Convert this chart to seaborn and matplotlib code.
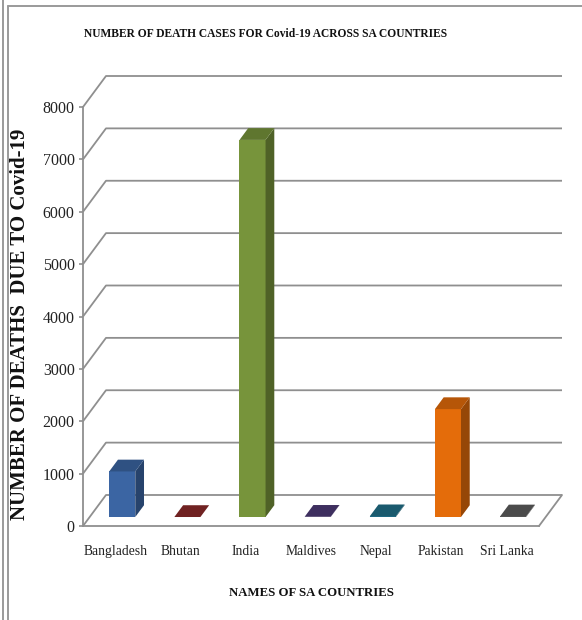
import matplotlib
matplotlib.use("Agg")
import matplotlib.pyplot as plt
from matplotlib.lines import Line2D
from matplotlib.patches import Polygon
from matplotlib.colors import to_rgb
import seaborn as sns
import pandas as pd

# Covid-19 deaths per South Asian country
countries = ["Bangladesh", "Bhutan", "India", "Maldives", "Nepal", "Pakistan", "Sri Lanka"]
deaths = [870, 0, 7200, 4, 14, 2060, 11]
bar_colors = ["#3B65A3", "#8C2A2A", "#77943B", "#4D3B77", "#21708A", "#E46C0A", "#5E5E5E"]
y_ticks = [0, 1000, 2000, 3000, 4000, 5000, 6000, 7000, 8000]

title = "NUMBER OF DEATH CASES FOR Covid-19 ACROSS SA COUNTRIES"
x_title = "NAMES OF SA COUNTRIES"
y_title = "NUMBER OF DEATHS  DUE TO Covid-19"

sns.set_theme(style="white")
plt.rcParams["font.family"] = ["Liberation Serif", "DejaVu Serif"]

W, H = 582, 620
fig = plt.figure(figsize=(W / 100, H / 100), dpi=100)
ax = fig.add_axes([83 / W, (H - 526) / H, (562 - 83) / W, (526 - 76) / H])

# depth of the 3-D box (data units) and placement of the columns inside it
DX, DY = 0.353, 592
D0, BD = 0.29, 0.38
YMAX = y_ticks[-1]
n = len(countries)

df = pd.DataFrame({"country": countries, "deaths": deaths})
sns.barplot(data=df, x="country", y="deaths", hue="country", palette=bar_colors,
            width=0.4, saturation=1, legend=False, edgecolor="none", ax=ax, zorder=2)

ax.set_xlim(-0.5, n - 0.5 + DX)
ax.set_ylim(0, YMAX + DY)

def shade(c, f):
    r, g, b = to_rgb(c)
    return (r * f, g * f, b * f)

# turn each flat column into a box: shifted front face, side face, top face
for p in list(ax.patches):
    x0, w, h = p.get_x(), p.get_width(), p.get_height()
    col = p.get_facecolor()
    fx, fy = x0 + D0 * DX, D0 * DY
    p.set_x(fx)
    p.set_y(fy)
    ox, oy = BD * DX, BD * DY
    side = Polygon([(fx + w, fy), (fx + w + ox, fy + oy), (fx + w + ox, fy + h + oy), (fx + w, fy + h)],
                   closed=True, facecolor=shade(col, 0.66), edgecolor="none", zorder=2)
    top = Polygon([(fx, fy + h), (fx + w, fy + h), (fx + w + ox, fy + h + oy), (fx + ox, fy + h + oy)],
                  closed=True, facecolor=shade(col, 0.8), edgecolor="none", zorder=2.1)
    ax.add_patch(side)
    ax.add_patch(top)

# back-wall gridlines with their side-wall diagonals
grid = "#8f8f8f"
for v in y_ticks:
    ax.plot([-0.5, -0.5 + DX, n - 0.5 + DX], [v, v + DY, v + DY],
            color=grid, lw=1.3, zorder=0.5, clip_on=False, solid_capstyle="butt")
# floor right edge
ax.plot([n - 0.5, n - 0.5 + DX], [0, DY], color=grid, lw=1.3, zorder=0.5, clip_on=False)

for s in ["top", "right"]:
    ax.spines[s].set_visible(False)
ax.spines["left"].set_bounds(0, YMAX)
ax.spines["bottom"].set_bounds(-0.5, n - 0.5)
for s in ["left", "bottom"]:
    ax.spines[s].set_color(grid)
    ax.spines[s].set_linewidth(1.3)

ax.set_yticks(y_ticks)
ax.set_yticklabels([str(v) for v in y_ticks])
ax.tick_params(axis="y", left=True, length=3, width=1.2, color=grid, pad=3,
               labelsize=11.5, labelcolor="#222222")
ax.tick_params(axis="x", bottom=False, length=0, pad=14, labelsize=9.8, labelcolor="#222222")
ax.set_xlabel("")
ax.set_ylabel("")

fig.text(266 / W, 1 - 34 / H, title, ha="center", va="center",
         fontsize=8.3, fontweight="bold", color="#111111")
fig.text(311 / W, 1 - 593 / H, x_title, ha="center", va="center",
         fontsize=9.2, fontweight="bold", color="#111111")
fig.text(20 / W, 1 - 324 / H, y_title, ha="center", va="center", rotation=90,
         fontsize=15, fontweight="bold", color="#111111")

# outer frame
frame = "#9a9a9a"
fig.add_artist(Line2D([3 / W, 3 / W], [0, 1], color=frame, lw=1.4))
fig.add_artist(Line2D([8 / W, 8 / W], [0, 1 - 6 / H], color=frame, lw=1.4))
fig.add_artist(Line2D([8 / W, 1], [1 - 6 / H, 1 - 6 / H], color=frame, lw=1.4))

fig.savefig("out.png", dpi=100)
